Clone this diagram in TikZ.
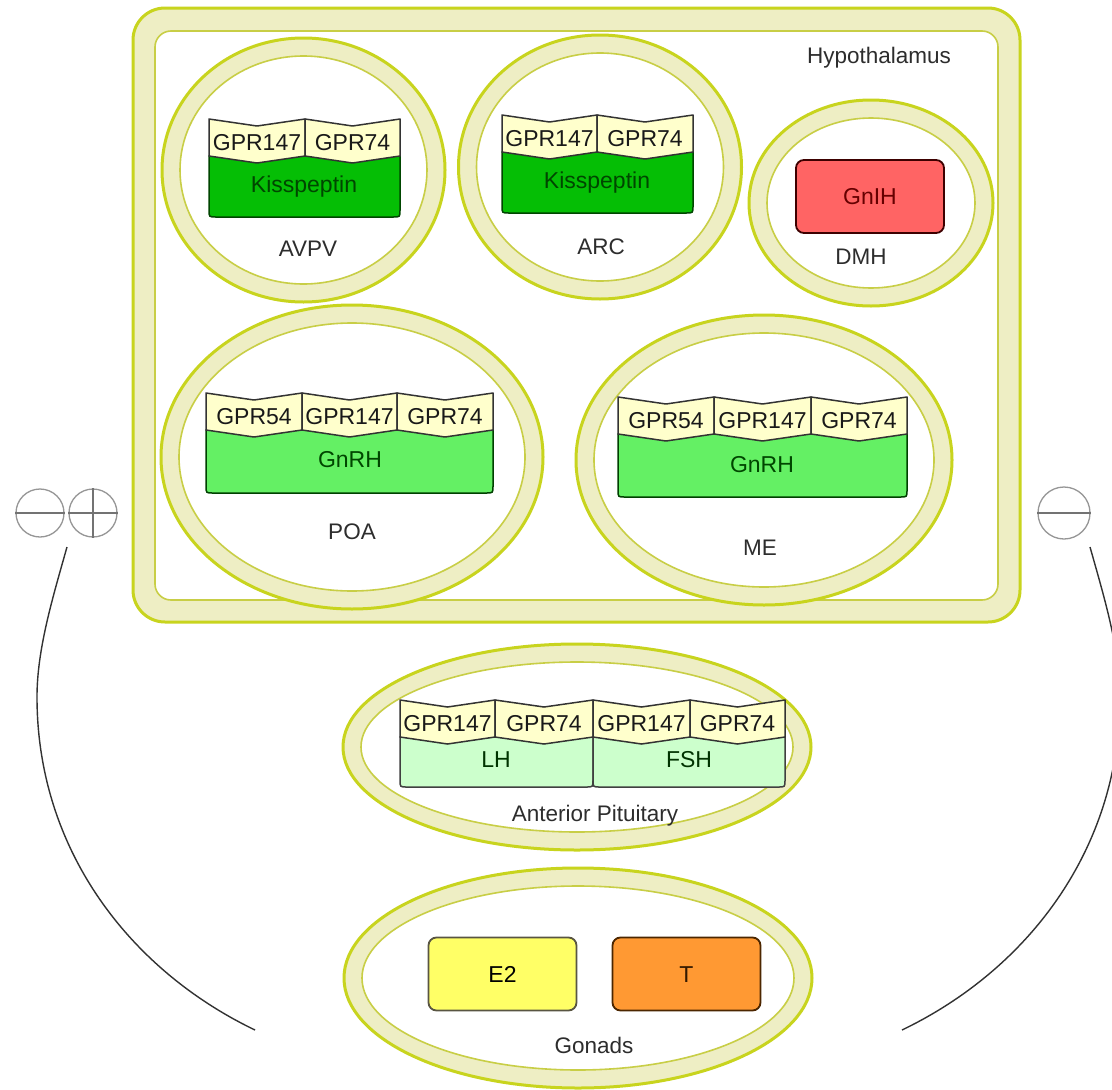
\documentclass[tikz,border=0pt]{standalone}
\usepackage{fontspec}
\setmainfont{Liberation Sans}
\definecolor{borderc}{RGB}{200,212,30}
\definecolor{innerc}{RGB}{200,206,70}
\definecolor{bandc}{RGB}{238,238,196}
\definecolor{rcpc}{RGB}{255,255,204}
\definecolor{kissc}{RGB}{5,190,5}
\definecolor{gnrhc}{RGB}{100,240,100}
\definecolor{lhc}{RGB}{204,255,204}
\definecolor{gnihc}{RGB}{255,100,100}
\definecolor{e2c}{RGB}{255,255,102}
\definecolor{tc}{RGB}{255,153,51}
\definecolor{labelc}{RGB}{45,45,45}
\definecolor{signc}{RGB}{150,150,150}
\definecolor{arcc}{RGB}{50,50,50}
\definecolor{dkgreen}{RGB}{0,70,0}
\newcommand{\ringshape}[5]{% name, cx, cy, rx, ry
  \path[fill=bandc, draw=borderc, line width=3pt] (#2,#3) ellipse [x radius=#4, y radius=#5];
  \path[fill=white, draw=innerc, line width=1.6pt] (#2,#3) ellipse [x radius=#4-18, y radius=#5-18];
  \coordinate (#1) at (#2,#3);}
\newcommand{\rcp}[5]{% name, xl, xr, yt, text
  \pgfmathsetmacro{\xm}{(#2+#3)/2}%
  \draw[rcpbox] (#2,#4) -- (\xm,#4+7) -- (#3,#4) -- (#3,#4+37) -- (\xm,#4+44) -- (#2,#4+37) -- cycle;
  \node[rcptext] (#1) at (\xm,#4+23) {#5};}
\newcommand{\hbody}[5]{% xl, xr, ytop, ybot, style
  \draw[#5] (#1,#3) -- (#2,#3) -- (#2,#4-7) .. controls (#2,#4) .. (#2-7,#4) -- (#1+7,#4) .. controls (#1,#4) .. (#1,#4-7) -- cycle;}
\begin{document}
\begin{tikzpicture}[x=1pt,y=-1pt,
  every node/.style={inner sep=0pt, text height=16.2pt, text depth=0pt, font=\fontsize{23}{27}\selectfont},
  lbl/.style={text=labelc, font=\fontsize{22.5}{27}\selectfont},
  rcpbox/.style={fill=rcpc, draw=black!80, line width=1.5pt, line join=round},
  rcptext/.style={text=black!90},
  kissbody/.style={fill=kissc, draw=dkgreen, line width=1.5pt},
  gnrhbody/.style={fill=gnrhc, draw=black!75!green, line width=1.5pt},
  lhbody/.style={fill=lhc, draw=black!75, line width=1.5pt},
  hbox/.style={rectangle, rounded corners=8pt, line width=1.8pt, minimum width=148pt, minimum height=73pt},
  signcirc/.style={circle, draw=signc, line width=1.3pt, minimum size=48pt},
  signline/.style={draw=black!55, line width=1.6pt},
  feedback/.style={draw=arcc, line width=1.4pt}]
\useasboundingbox (0,0) rectangle (1112,1090);
\clip (0,0) rectangle (1112,1090);
\fill[white] (0,0) rectangle (1112,1090);

% Hypothalamus frame
\path[fill=bandc, draw=borderc, line width=3pt, rounded corners=32pt] (133,8) rectangle (1020,622);
\path[fill=white, draw=innerc, line width=1.6pt, rounded corners=16pt] (155,31) rectangle (998,600);
\node[lbl] (hypo) at (879,55) {Hypothalamus};

% AVPV
\ringshape{avpv}{303.5}{170}{141.5}{132}
\hbody{209}{400}{156}{217}{kissbody}
\rcp{avpv1}{209}{305}{119}{GPR147}
\rcp{avpv2}{305}{400}{119}{GPR74}
\node[text=dkgreen] (avpvk) at (304,184) {Kisspeptin};
\node[lbl] (avpvl) at (308,248) {AVPV};

% ARC
\ringshape{arc}{600}{167}{141.5}{132}
\hbody{502}{693}{152}{213}{kissbody}
\rcp{arc1}{502}{597}{115}{GPR147}
\rcp{arc2}{597}{693}{115}{GPR74}
\node[text=dkgreen] (arck) at (597,180) {Kisspeptin};
\node[lbl] (arcl) at (601,246) {ARC};

% DMH
\ringshape{dmh}{871}{203}{122}{103}
\node[hbox, fill=gnihc, draw=black!60!red!60!black, text=black!60!red] (gnih) at (870,196.5) {GnIH};
\node[lbl] (dmhl) at (861,256) {DMH};

% POA
\ringshape{poa}{352}{457}{191}{152}
\hbody{206}{493}{430}{493}{gnrhbody}
\rcp{poa1}{206}{302}{393}{GPR54}
\rcp{poa2}{302}{397}{393}{GPR147}
\rcp{poa3}{397}{493}{393}{GPR74}
\node[text=dkgreen] (poag) at (350,459) {GnRH};
\node[lbl] (poal) at (352,531) {POA};

% ME
\ringshape{me}{764}{460}{188}{145}
\hbody{618}{907}{434}{497}{gnrhbody}
\rcp{me1}{618}{714}{397}{GPR54}
\rcp{me2}{714}{811}{397}{GPR147}
\rcp{me3}{811}{907}{397}{GPR74}
\node[text=dkgreen] (meg) at (762,464) {GnRH};
\node[lbl] (mel) at (760,547) {ME};

% Anterior Pituitary
\ringshape{pit}{577}{747}{234}{103}
\hbody{400}{593}{737}{787}{lhbody}
\hbody{593}{785}{737}{787}{lhbody}
\rcp{pit1}{400}{495}{700}{GPR147}
\rcp{pit2}{495}{593}{700}{GPR74}
\rcp{pit3}{593}{690}{700}{GPR147}
\rcp{pit4}{690}{785}{700}{GPR74}
\node[text=black!80!green] (lh) at (496,759) {LH};
\node[text=black!80!green] (fsh) at (689,759) {FSH};
\node[lbl] (pitl) at (595,813) {Anterior Pituitary};

% Gonads
\ringshape{gon}{578}{978}{234}{110}
\node[hbox, fill=e2c, draw=black!75!yellow] (e2) at (502.5,974) {E2};
\node[hbox, fill=tc, draw=black!70!orange, text=black!80!orange] (tt) at (686.5,974) {T};
\node[lbl] (gonl) at (594,1045) {Gonads};

% feedback signs
\node[signcirc] (minl) at (40,513) {};
\node[signcirc] (plusl) at (93,513) {};
\node[signcirc, minimum size=52pt] (minr) at (1064,513) {};
\draw[signline] (minl.west) -- (minl.east);
\draw[signline] (plusl.west) -- (plusl.east);
\draw[signline] (plusl.north) -- (plusl.south);
\draw[signline] (minr.west) -- (minr.east);

% feedback arcs
\coordinate (la0) at (67,547);
\coordinate (la1) at (255,1030);
\coordinate (ra0) at (1090,547);
\coordinate (ra1) at (902,1030);
\draw[feedback] (la0) .. controls (52,600) and (37,650) .. (37,697) .. controls (37,850) and (130,970) .. (la1);
\draw[feedback] (ra0) .. controls (1105,600) and (1120,650) .. (1120,697) .. controls (1120,850) and (1027,970) .. (ra1);
\end{tikzpicture}
\end{document}
